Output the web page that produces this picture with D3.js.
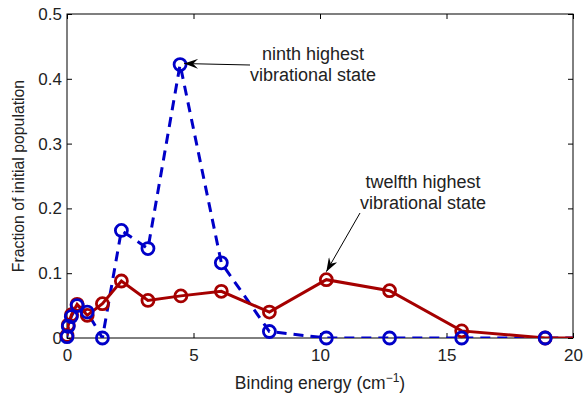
<!DOCTYPE html>
<html>
<head>
<meta charset="utf-8">
<script src="https://cdn.jsdelivr.net/npm/d3@7"></script>
<style>
  body { margin: 0; background: #fff; }
  svg text { font-family: "Liberation Sans", Arial, sans-serif; fill: #222; }
</style>
</head>
<body>
<div id="chart"></div>
<script>
// binding energy (cm^-1) and fraction of initial population
const ninthX = [0, 0.05, 0.17, 0.4, 0.8, 1.4, 2.15, 3.2, 4.47, 6.1, 8.0, 10.25, 12.75, 15.6, 18.9, 23];
const ninthY = [0.002, 0.018, 0.033, 0.05, 0.04, 0, 0.166, 0.138, 0.422, 0.116, 0.01, 0, 0, 0, 0, 0];
const twelfthX = [0, 0.05, 0.18, 0.4, 0.8, 1.4, 2.15, 3.2, 4.5, 6.1, 8.0, 10.25, 12.75, 15.6, 18.9, 23];
const twelfthY = [0.004, 0.02, 0.036, 0.052, 0.035, 0.053, 0.088, 0.058, 0.065, 0.072, 0.04, 0.09, 0.073, 0.011, 0, 0];
const xTicks = [0, 5, 10, 15, 20];
const yTicks = [0, 0.1, 0.2, 0.3, 0.4, 0.5];

function drawChart() {
    const W = 584, H = 395;
    const margin = { top: 14, right: 11, bottom: 57, left: 67 };
    const width = W - margin.left - margin.right;
    const height = H - margin.top - margin.bottom;

    const svg = d3.select("#chart").append("svg")
        .attr("width", W)
        .attr("height", H);

    const chart = svg.append("g")
        .attr("transform", `translate(${margin.left},${margin.top})`);

    const x = d3.scaleLinear().domain([0, 20]).range([0, width]);
    const y = d3.scaleLinear().domain([0, 0.5]).range([height, 0]);

    svg.append("defs").append("clipPath").attr("id", "clip")
        .append("rect").attr("width", width).attr("height", height + 10).attr("y", -10);

    // axes with inward ticks, box style
    chart.append("g")
        .attr("transform", `translate(0,${height})`)
        .call(d3.axisBottom(x).tickValues(xTicks).tickSize(-5).tickPadding(11).tickFormat(d3.format("d")))
        .call(g => g.select(".domain").remove())
        .selectAll("text").style("font-size", "17px");

    chart.append("g")
        .call(d3.axisTop(x).tickValues(xTicks).tickSize(-5).tickFormat(""))
        .call(g => g.select(".domain").remove());

    chart.append("g")
        .call(d3.axisLeft(y).tickValues(yTicks).tickSize(-5).tickPadding(5).tickFormat(d => d === 0 ? "0" : d3.format(".1f")(d)))
        .call(g => g.select(".domain").remove())
        .selectAll("text").style("font-size", "17px");

    chart.append("g")
        .attr("transform", `translate(${width},0)`)
        .call(d3.axisRight(y).tickValues(yTicks).tickSize(-5).tickFormat(""))
        .call(g => g.select(".domain").remove());

    chart.append("rect")
        .attr("width", width)
        .attr("height", height)
        .attr("fill", "none")
        .attr("stroke", "#000")
        .attr("stroke-width", 1);

    const series = [
        { xs: ninthX, ys: ninthY, color: "#0000c8", dash: "10,7" },
        { xs: twelfthX, ys: twelfthY, color: "#a50000", dash: null }
    ];

    const line = d3.line().x(d => x(d[0])).y(d => y(d[1]));

    const plot = chart.append("g").attr("clip-path", "url(#clip)");
    const marks = chart.append("g");

    series.forEach(s => {
        const pts = s.xs.map((v, i) => [v, s.ys[i]]);
        plot.append("path")
            .attr("d", line(pts))
            .attr("fill", "none")
            .attr("stroke", s.color)
            .attr("stroke-width", 3)
            .attr("stroke-dasharray", s.dash);
    });

    // circles: red first, blue on top
    series.slice().reverse().forEach(s => {
        const pts = s.xs.map((v, i) => [v, s.ys[i]]);
        marks.selectAll(null)
            .data(pts.filter(d => d[0] <= 20))
            .enter()
            .append("circle")
            .attr("cx", d => x(d[0]))
            .attr("cy", d => y(d[1]))
            .attr("r", 6)
            .attr("fill", "none")
            .attr("stroke", s.color)
            .attr("stroke-width", 2.8);
    });

    // annotations
    const defs = svg.select("defs");
    defs.append("marker")
        .attr("id", "arrow")
        .attr("viewBox", "0 0 14 10")
        .attr("refX", 14).attr("refY", 5)
        .attr("markerWidth", 14).attr("markerHeight", 10)
        .attr("markerUnits", "userSpaceOnUse")
        .attr("orient", "auto")
        .append("path")
        .attr("d", "M0,0 L14,5 L0,10 L5,5 Z")
        .attr("fill", "#000");

    const notes = [
        { lines: ["ninth highest", "vibrational state"], tx: 313, ty: 60, from: [250, 65], to: [x(4.47) + 4, y(0.422) - 1] },
        { lines: ["twelfth highest", "vibrational state"], tx: 423, ty: 188, from: [360, 213], to: [x(10.25), y(0.09) - 8] }
    ];

    notes.forEach(n => {
        const t = svg.append("text")
            .attr("x", n.tx)
            .attr("y", n.ty)
            .attr("text-anchor", "middle")
            .style("font-size", "18px");
        n.lines.forEach((l, i) => {
            t.append("tspan").attr("x", n.tx).attr("dy", i === 0 ? 0 : 21).text(l);
        });
        svg.append("line")
            .attr("x1", n.from[0]).attr("y1", n.from[1])
            .attr("x2", n.to[0] + margin.left).attr("y2", n.to[1] + margin.top)
            .attr("stroke", "#000")
            .attr("stroke-width", 1)
            .attr("marker-end", "url(#arrow)");
    });

    // axis labels
    const xl = svg.append("text")
        .attr("x", margin.left + width / 2)
        .attr("y", 389)
        .attr("text-anchor", "middle")
        .style("font-size", "17.5px");
    xl.append("tspan").text("Binding energy (cm");
    xl.append("tspan").attr("dy", -7).style("font-size", "12px").text("\u22121");
    xl.append("tspan").attr("dy", 7).text(")");

    svg.append("text")
        .attr("transform", `translate(24,${margin.top + height / 2}) rotate(-90)`)
        .attr("text-anchor", "middle")
        .style("font-size", "15.8px")
        .text("Fraction of initial population");
}

window.addEventListener("load", drawChart);
</script>
</body>
</html>
